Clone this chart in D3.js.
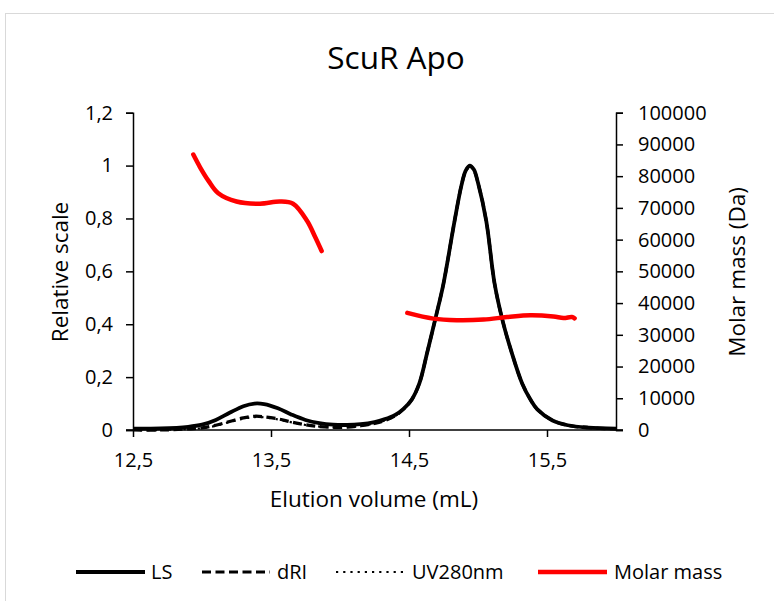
<!DOCTYPE html>
<html>
<head>
<meta charset="utf-8">
<script src="https://cdn.jsdelivr.net/npm/d3@7/dist/d3.min.js"></script>
<style>
  html, body { margin: 0; padding: 0; background: #fff; }
  svg { display: block; font-family: "Open Sans", "Noto Sans", sans-serif; }
</style>
</head>
<body>
<svg id="chart" width="774" height="601"></svg>
<script>
// ---- Data ----
const volume = [12.50, 12.70, 12.90, 13.00, 13.10, 13.20, 13.30, 13.38, 13.45, 13.55, 13.65, 13.75, 13.85, 13.95, 14.05, 14.15, 14.25, 14.32, 14.40, 14.46, 14.52, 14.575, 14.635, 14.70, 14.75, 14.83, 14.88, 14.91, 14.94, 14.97, 15.00, 15.06, 15.12, 15.18, 15.24, 15.32, 15.38, 15.43, 15.54, 15.65, 15.80, 16.00];
const ls    = [0.005, 0.006, 0.012, 0.020, 0.038, 0.065, 0.090, 0.100, 0.098, 0.082, 0.058, 0.038, 0.026, 0.020, 0.019, 0.022, 0.030, 0.040, 0.057, 0.080, 0.115, 0.176, 0.300, 0.440, 0.554, 0.790, 0.925, 0.980, 1.000, 0.985, 0.935, 0.790, 0.554, 0.410, 0.300, 0.176, 0.115, 0.078, 0.036, 0.018, 0.009, 0.005];
const dri   = [0.000, 0.000, 0.004, 0.008, 0.018, 0.032, 0.046, 0.052, 0.050, 0.042, 0.030, 0.020, 0.013, 0.010, 0.011, 0.016, 0.025, 0.035, 0.054, 0.079, 0.115, 0.176, 0.300, 0.440, 0.554, 0.790, 0.925, 0.978, 0.998, 0.983, 0.935, 0.790, 0.554, 0.410, 0.300, 0.176, 0.115, 0.078, 0.036, 0.018, 0.009, 0.004];
const uv    = [0.000, 0.000, 0.004, 0.007, 0.016, 0.030, 0.043, 0.049, 0.048, 0.040, 0.029, 0.019, 0.013, 0.010, 0.011, 0.016, 0.025, 0.035, 0.054, 0.079, 0.115, 0.176, 0.300, 0.440, 0.554, 0.790, 0.925, 0.978, 0.998, 0.983, 0.935, 0.790, 0.554, 0.410, 0.300, 0.176, 0.115, 0.078, 0.036, 0.018, 0.009, 0.004];

const mmVolume1 = [12.937, 12.986, 13.046, 13.118, 13.25, 13.42, 13.565, 13.66, 13.76, 13.82, 13.867];
const molarMass1 = [86800, 82800, 78600, 74600, 72000, 71300, 72000, 71300, 66000, 60800, 56400];
const mmVolume2 = [14.488, 14.676, 14.846, 15.04, 15.21, 15.38, 15.546, 15.62, 15.68, 15.70];
const molarMass2 = [36900, 35100, 34600, 34800, 35600, 36200, 35800, 35300, 35600, 35200];

const xTicks = [12.5, 13.5, 14.5, 15.5];
const yLeftTicks = [0, 0.2, 0.4, 0.6, 0.8, 1, 1.2];
const yRightTicks = [0, 10000, 20000, 30000, 40000, 50000, 60000, 70000, 80000, 90000, 100000];

const seriesNames = ["LS", "dRI", "UV280nm", "Molar mass"];

// ---- Chart ----
const svg = d3.select("#chart");
const pLeft = 133, pRight = 616, pTop = 112.7, pBottom = 430;

const x = d3.scaleLinear().domain([12.5, 16.0]).range([pLeft, pRight]);
const yL = d3.scaleLinear().domain([0, 1.2]).range([pBottom, pTop]);
const yR = d3.scaleLinear().domain([0, 100000]).range([pBottom, pTop]);

const fmt = d => String(d).replace(".", ",");

// outer border
svg.append("rect").attr("x", 5.5).attr("y", 13.5).attr("width", 900).attr("height", 900)
  .attr("fill", "none").attr("stroke", "#d9d9d9").attr("stroke-width", 1);

// title
svg.append("text").attr("x", 396).attr("y", 69).attr("text-anchor", "middle")
  .attr("font-size", 31.5).attr("fill", "#000").text("ScuR Apo");

// axes
const axisStyle = g => {
  g.selectAll("path.domain").attr("stroke", "#000").attr("stroke-width", 1.5);
  g.selectAll(".tick line").attr("stroke", "#000").attr("stroke-width", 1.5);
  g.selectAll(".tick text").attr("fill", "#000").attr("font-size", 20)
    .attr("font-family", "'Open Sans', 'Noto Sans', sans-serif");
};

svg.append("g").attr("transform", `translate(${pLeft},0)`)
  .call(d3.axisLeft(yL).tickValues(yLeftTicks).tickFormat(fmt).tickSizeInner(7).tickSizeOuter(7).tickPadding(13))
  .call(axisStyle);

svg.append("g").attr("transform", `translate(${pRight},0)`)
  .call(d3.axisRight(yR).tickValues(yRightTicks).tickFormat(d => String(d)).tickSizeInner(7).tickSizeOuter(7).tickPadding(15))
  .call(axisStyle);

svg.append("g").attr("transform", `translate(0,${pBottom})`)
  .call(d3.axisBottom(x).tickValues(xTicks).tickFormat(fmt).tickSizeInner(7).tickSizeOuter(0).tickPadding(16))
  .call(axisStyle)
  .call(g => g.select("path.domain").attr("d", `M${pLeft - 7},0H${pRight + 7}`));

// axis titles
svg.append("text").attr("x", 374).attr("y", 507).attr("text-anchor", "middle")
  .attr("font-size", 22.5).attr("fill", "#000").text("Elution volume (mL)");
svg.append("text").attr("transform", "translate(68,272) rotate(-90)").attr("text-anchor", "middle")
  .attr("font-size", 22.5).attr("fill", "#000").text("Relative scale");
svg.append("text").attr("transform", "translate(745,272) rotate(-90)").attr("text-anchor", "middle")
  .attr("font-size", 22.5).attr("fill", "#000").text("Molar mass (Da)");

// lines
const lineL = d3.line().x(d => x(d[0])).y(d => yL(d[1])).curve(d3.curveCatmullRom.alpha(0.5));
const lineR = d3.line().x(d => x(d[0])).y(d => yR(d[1])).curve(d3.curveCatmullRom.alpha(0.5));

const styles = [
  { name: seriesNames[0], color: "#000", width: 3.8, dash: null },
  { name: seriesNames[1], color: "#000", width: 3.2, dash: "9,4.5" },
  { name: seriesNames[2], color: "#000", width: 2.2, dash: "2.2,5" },
  { name: seriesNames[3], color: "#ff0000", width: 4.5, dash: null }
];

const plot = svg.append("g");
[ls, dri, uv].forEach((vals, i) => {
  const data = volume.map((v, j) => [v, vals[j]]);
  plot.append("path").datum(data).attr("d", lineL)
    .attr("fill", "none").attr("stroke", styles[i].color).attr("stroke-width", styles[i].width)
    .attr("stroke-dasharray", styles[i].dash).attr("stroke-linejoin", "round");
});
[[mmVolume1, molarMass1], [mmVolume2, molarMass2]].forEach(([vs, ms]) => {
  const data = vs.map((v, j) => [v, ms[j]]);
  plot.append("path").datum(data).attr("d", lineR)
    .attr("fill", "none").attr("stroke", styles[3].color).attr("stroke-width", styles[3].width)
    .attr("stroke-linecap", "round").attr("stroke-linejoin", "round");
});

// legend
const legendItems = [
  { x1: 76, x2: 145, tx: 151 },
  { x1: 202, x2: 270, tx: 277 },
  { x1: 336, x2: 404, tx: 412 },
  { x1: 538, x2: 607, tx: 614 }
];
const lg = svg.append("g");
legendItems.forEach((it, i) => {
  lg.append("line").attr("x1", it.x1).attr("x2", it.x2).attr("y1", 572).attr("y2", 572)
    .attr("stroke", styles[i].color).attr("stroke-width", styles[i].width)
    .attr("stroke-dasharray", styles[i].dash);
  lg.append("text").attr("x", it.tx).attr("y", 579).attr("font-size", 20).attr("fill", "#000")
    .text(styles[i].name);
});
</script>
</body>
</html>
